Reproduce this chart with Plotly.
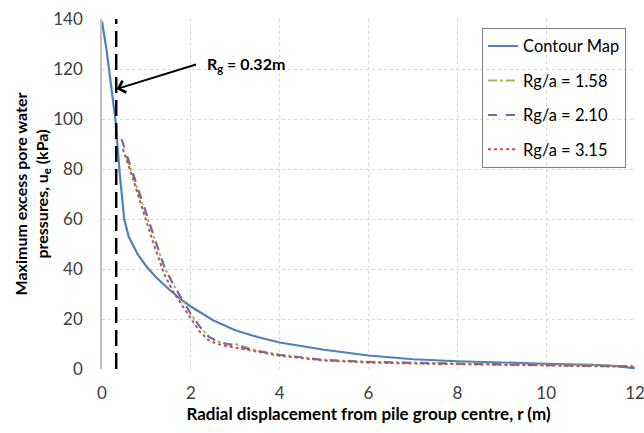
import plotly.graph_objects as go

# Contour map
r_contour = [0.0, 0.1, 0.2, 0.3, 0.4, 0.5, 0.6, 0.8, 1.0, 1.2, 1.5, 1.8, 2.0, 2.5, 3.0, 3.5, 4.0, 5.0, 6.0, 7.0, 8.0, 9.0, 10.0, 11.0, 11.5, 12.0]
u_contour = [139, 128, 114, 100, 78, 60, 53, 46, 41, 37, 32, 27.5, 25, 19.5, 15.5, 12.8, 10.6, 7.7, 5.4, 3.9, 3.1, 2.5, 2.1, 1.7, 1.3, 0.3]

# Rg/a = 1.58
r_158 = [0.55, 0.7, 1.0, 1.2, 1.4, 1.6, 1.8, 2.0, 2.2, 2.4, 2.6, 2.8, 3.0, 3.2, 3.5, 4.0, 5.0, 6.0, 7.0, 8.0, 9.0, 10.0, 11.0, 12.0]
u_158 = [85, 77, 61, 51, 41, 34, 28, 22, 17, 13, 11, 10, 10, 9, 7.3, 5.7, 3.7, 2.9, 2.5, 2.1, 1.9, 1.6, 1.4, 1.1]

# Rg/a = 2.10
r_210 = [0.44, 0.7, 1.0, 1.2, 1.4, 1.6, 1.8, 2.0, 2.2, 2.4, 2.6, 2.8, 3.0, 3.5, 4.0, 5.0, 6.0, 7.0, 8.0, 9.0, 10.0, 11.0, 12.0]
u_210 = [92, 78, 62, 52, 41, 34, 28, 22, 17, 13, 11, 10, 9.2, 7.2, 5.6, 3.6, 2.8, 2.4, 2.0, 1.8, 1.5, 1.3, 1.0]

# Rg/a = 3.15
r_315 = [0.47, 0.7, 1.0, 1.2, 1.4, 1.6, 1.8, 2.0, 2.2, 2.4, 2.6, 2.8, 3.0, 3.5, 4.0, 5.0, 6.0, 7.0, 8.0, 9.0, 10.0, 11.0, 12.0]
u_315 = [88, 76, 59, 48, 38, 31, 25.5, 20, 15, 11.5, 10, 9.2, 8.6, 6.9, 5.3, 3.4, 2.6, 2.2, 1.9, 1.7, 1.4, 1.2, 0.9]

rg = 0.32
FONT = "Lato"

fig = go.Figure()
fig.add_trace(go.Scatter(x=r_contour, y=u_contour, mode="lines", name="Contour Map",
                         line=dict(color="#4F81BD", width=2.2), legendgroup="a"))
fig.add_trace(go.Scatter(x=r_158, y=u_158, mode="lines", name="Rg/a = 1.58",
                         line=dict(color="#9BBB59", width=2, dash="dashdot"), legendgroup="b"))
fig.add_trace(go.Scatter(x=r_210, y=u_210, mode="lines", name="Rg/a = 2.10",
                         line=dict(color="#8064A2", width=2, dash="dash"), legendgroup="c"))
fig.add_trace(go.Scatter(x=r_315, y=u_315, mode="lines", name="Rg/a = 3.15",
                         line=dict(color="#C0504D", width=2, dash="dot"), legendgroup="d"))

fig.add_shape(type="line", x0=rg, x1=rg, y0=0, y1=140, xref="x", yref="y",
              line=dict(color="black", width=2.5, dash="16px,7px"))

fig.add_annotation(x=0.33, y=112, ax=2.15, ay=122, xref="x", yref="y", axref="x", ayref="y",
                   showarrow=True, arrowhead=4, arrowsize=1.2, arrowwidth=2, arrowcolor="black", text="")
fig.add_annotation(x=2.33, y=122, xref="x", yref="y", xanchor="left", yanchor="middle",
                   showarrow=False, text="<b>R<sub>g</sub> = 0.32m</b>",
                   font=dict(family=FONT, size=16, color="black"))

fig.update_layout(
    width=644, height=433,
    margin=dict(l=102, r=9, t=19, b=64),
    plot_bgcolor="white", paper_bgcolor="white",
    font=dict(family=FONT, size=16, color="#404040"),
    showlegend=True,
    legend=dict(x=0.713, y=0.975, xanchor="left", yanchor="top",
                bgcolor="rgba(255,255,255,0)", bordercolor="#7f7f7f", borderwidth=1,
                font=dict(family=FONT, size=16.5, color="black"),
                tracegroupgap=10, traceorder="grouped", itemwidth=30),
)
fig.update_xaxes(range=[0, 12], tickvals=[0, 2, 4, 6, 8, 10, 12], showgrid=True,
                 gridcolor="#D9D9D9", griddash="dot", gridwidth=1, zeroline=False,
                 showline=False, ticks="", ticklabelstandoff=12, ticklabeloverflow="allow",
                 automargin=False,
                 tickfont=dict(size=17, color="#404040"),
                 title=dict(text="<b>Radial displacement from pile group centre, r (m)</b>",
                            font=dict(family=FONT, size=17, color="black"), standoff=0))
fig.update_yaxes(range=[0, 140], tickvals=list(range(0, 141, 20)), showgrid=True,
                 gridcolor="#D9D9D9", griddash="dot", gridwidth=1, zeroline=False,
                 showline=True, linecolor="#BFBFBF", linewidth=1.5, ticks="",
                 ticklabelstandoff=14, automargin=False,
                 tickfont=dict(size=17, color="#404040"),
                 title=dict(text="<b>Maximum excess pore water<br>pressures, u<sub>e</sub> (kPa)</b>",
                            font=dict(family=FONT, size=16, color="black"), standoff=1))

fig.write_html("out.html")
